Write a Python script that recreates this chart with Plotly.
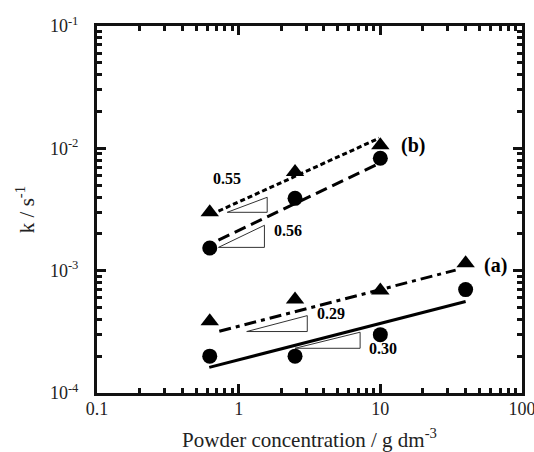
import math
import plotly.graph_objects as go

# ---- data ----
conc = [0.625, 2.5, 10, 40]
conc_b = [0.625, 2.5, 10]
k_a_tri = [3.86e-4, 5.8e-4, 6.9e-4, 1.15e-3]
k_a_cir = [2.0e-4, 2.0e-4, 3.0e-4, 7.0e-4]
k_b_tri = [3.0e-3, 6.4e-3, 1.06e-2]
k_b_cir = [1.53e-3, 3.9e-3, 8.3e-3]

# fitted lines (endpoints)
fit_b_tri_x = [0.72, 9.8]
fit_b_tri_y = [3.07e-3, 1.21e-2]
fit_b_cir_x = [0.72, 10.0]
fit_b_cir_y = [1.78e-3, 7.6e-3]
fit_a_tri_x = [0.73, 34.0]
fit_a_tri_y = [3.2e-4, 1.01e-3]
fit_a_cir_x = [0.62, 40.0]
fit_a_cir_y = [1.62e-4, 5.6e-4]

# slope triangles: (x_left, x_right, y_bottom, y_top, label, label_x, label_y)
slope_tris = [
    (0.83, 1.59, 3.0e-3, 3.98e-3, "0.55", 0.83, 5.7e-3),
    (0.72, 1.52, 1.55e-3, 2.35e-3, "0.56", 2.24, 2.14e-3),
    (1.14, 3.05, 3.18e-4, 4.29e-4, "0.29", 4.5, 4.49e-4),
    (2.5, 7.2, 2.32e-4, 3.14e-4, "0.30", 10.5, 2.32e-4),
]
series_labels = [("(b)", 17.1, 1.06e-2), ("(a)", 65.0, 1.11e-3)]

x_tickvals = [0.1, 1, 10, 100]
x_ticktext = ["0.1", "1", "10", "100"]
y_tickvals = [1e-4, 1e-3, 1e-2, 1e-1]
y_ticktext = ["10<sup>-4</sup>", "10<sup>-3</sup>", "10<sup>-2</sup>", "10<sup>-1</sup>"]
minor_mult = [2, 3, 4, 5, 6, 7, 8, 9]

FONT = "Liberation Serif"
INK = "#111"
fig = go.Figure()

# slope triangles
for xl, xr, yb, yt, lab, lx, ly in slope_tris:
    fig.add_trace(go.Scatter(x=[xl, xr, xr, xl], y=[yb, yb, yt, yb], mode="lines",
                             line=dict(color="#333", width=1), hoverinfo="skip"))
    fig.add_annotation(x=math.log10(lx), y=math.log10(ly), xref="x", yref="y",
                       text="<b>%s</b>" % lab, showarrow=False,
                       font=dict(family=FONT, size=16, color="black"))

for lab, lx, ly in series_labels:
    fig.add_annotation(x=math.log10(lx), y=math.log10(ly), xref="x", yref="y",
                       text="<b>%s</b>" % lab, showarrow=False,
                       font=dict(family=FONT, size=20, color="black"))

# fit lines
fig.add_trace(go.Scatter(x=fit_b_tri_x, y=fit_b_tri_y, mode="lines",
                         line=dict(color="black", width=3, dash="5px,3px")))
fig.add_trace(go.Scatter(x=fit_b_cir_x, y=fit_b_cir_y, mode="lines",
                         line=dict(color="black", width=3, dash="12px,6px")))
fig.add_trace(go.Scatter(x=fit_a_tri_x, y=fit_a_tri_y, mode="lines",
                         line=dict(color="black", width=3, dash="12px,5px,4px,5px")))
fig.add_trace(go.Scatter(x=fit_a_cir_x, y=fit_a_cir_y, mode="lines",
                         line=dict(color="black", width=3)))

# markers
fig.add_trace(go.Scatter(x=conc, y=k_a_tri, mode="markers",
                         marker=dict(symbol="triangle-up", size=16, color="black")))
fig.add_trace(go.Scatter(x=conc, y=k_a_cir, mode="markers",
                         marker=dict(symbol="circle", size=15, color="black")))
fig.add_trace(go.Scatter(x=conc_b, y=k_b_tri, mode="markers",
                         marker=dict(symbol="triangle-up", size=16, color="black")))
fig.add_trace(go.Scatter(x=conc_b, y=k_b_cir, mode="markers",
                         marker=dict(symbol="circle", size=15, color="black")))

# invisible trace so the minor-tick overlay axes are drawn
fig.add_trace(go.Scatter(x=[1], y=[1e-3], xaxis="x2", yaxis="y2", mode="markers",
                         marker=dict(opacity=0), hoverinfo="skip"))

x_minor = [m * d for d in [0.1, 1, 10] for m in minor_mult]
y_minor = [m * d for d in [1e-4, 1e-3, 1e-2] for m in minor_mult]

axis_common = dict(type="log", showgrid=False, zeroline=False, showline=True,
                   linecolor=INK, linewidth=3, mirror="allticks", automargin=False,
                   ticks="inside", ticklen=9, tickwidth=3, tickcolor=INK,
                   ticklabeloverflow="allow",
                   tickfont=dict(family=FONT, size=18, color="#222"))
minor_common = dict(showticklabels=False, automargin=False, ticks="inside", ticklen=5,
                    tickwidth=3, tickcolor=INK, mirror="allticks", showline=False,
                    showgrid=False, zeroline=False)

fig.update_layout(
    xaxis=dict(range=[-1, 2], tickmode="array", tickvals=x_tickvals, ticktext=x_ticktext,
               title=dict(text="Powder concentration / g dm<sup>-3</sup>",
                          font=dict(family=FONT, size=21, color="#222"), standoff=16),
               ticklabelstandoff=-3, **axis_common),
    yaxis=dict(range=[-4, -1], tickmode="array", tickvals=y_tickvals, ticktext=y_ticktext,
               title=dict(text="k / s<sup>-1</sup>",
                          font=dict(family=FONT, size=21, color="#222"), standoff=10),
               ticklabelstandoff=12, **axis_common),
    xaxis2=dict(type="log", range=[-1, 2], overlaying="x", anchor="y2", side="bottom",
                tickmode="array", tickvals=x_minor, **minor_common),
    yaxis2=dict(type="log", range=[-4, -1], overlaying="y", anchor="x2", side="left",
                tickmode="array", tickvals=y_minor, **minor_common),
    width=534, height=452, showlegend=False,
    margin=dict(l=97, r=12, t=26, b=59),
    paper_bgcolor="white", plot_bgcolor="white",
)

fig.write_html("out.html")
